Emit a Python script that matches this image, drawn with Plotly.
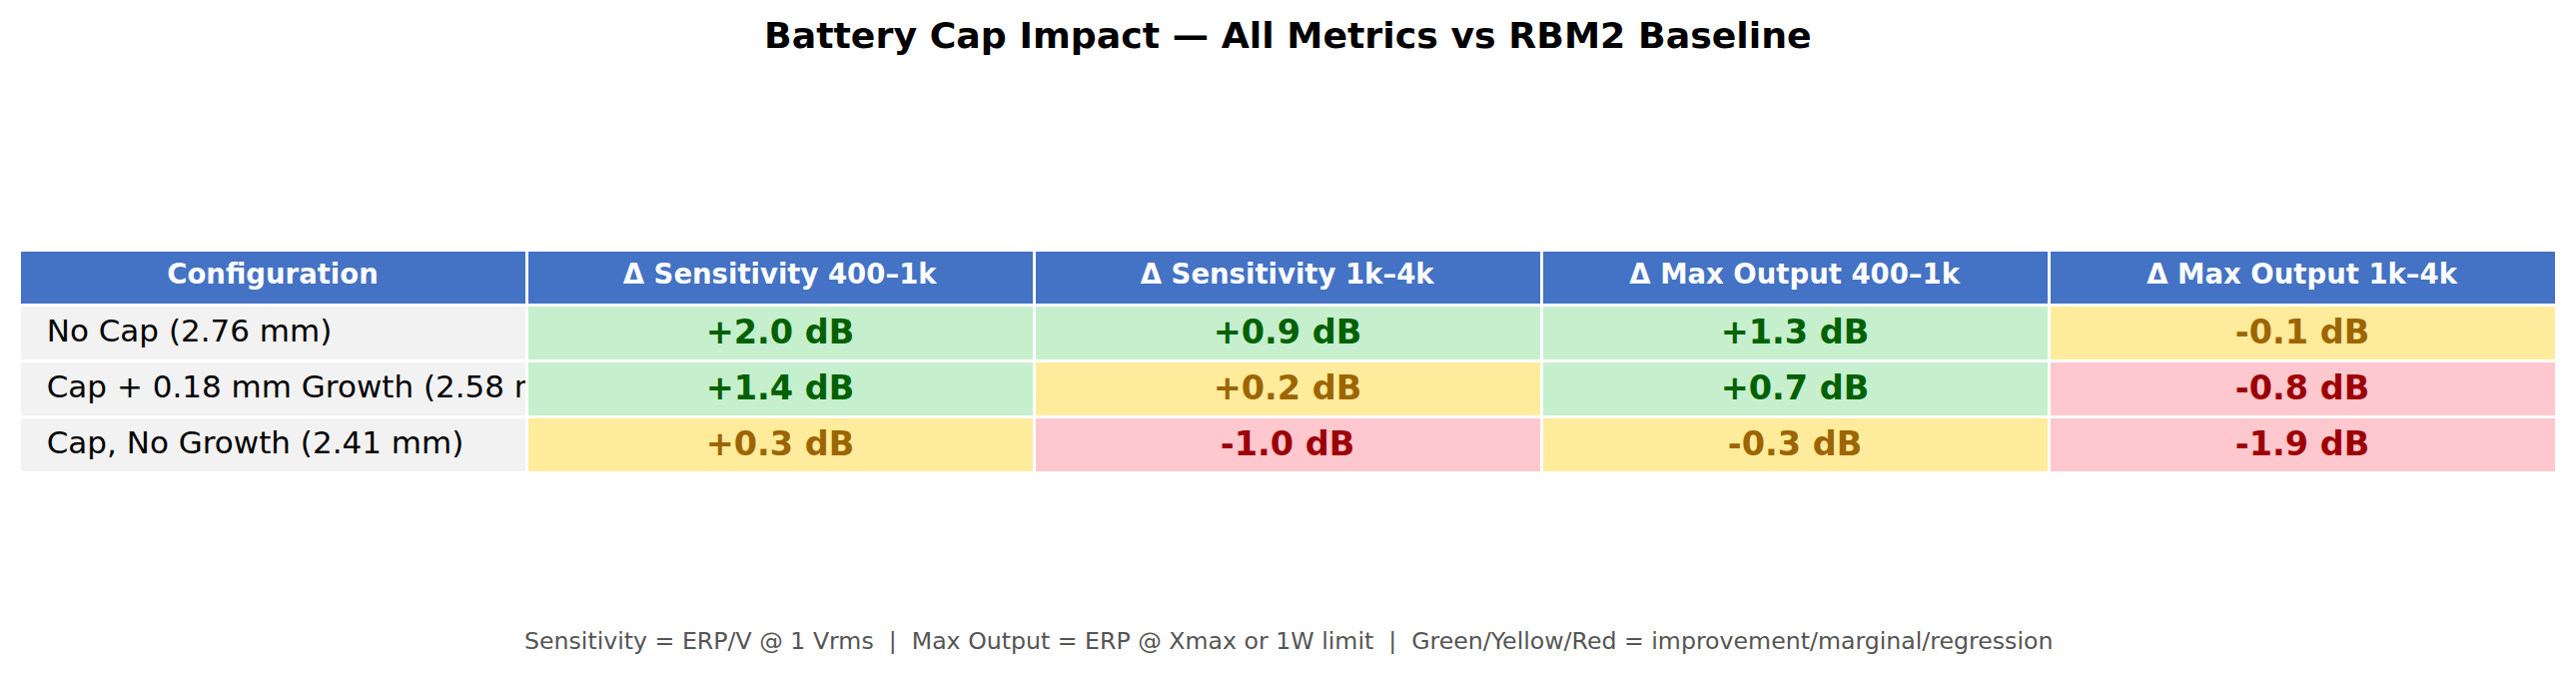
import plotly.graph_objects as go

W, H = 2579, 676

configs = ["No Cap (2.76 mm)", "Cap + 0.18 mm Growth (2.58 mm)", "Cap, No Growth (2.41 mm)"]
metric_labels = ["Δ Sensitivity 400–1k", "Δ Sensitivity 1k–4k", "Δ Max Output 400–1k", "Δ Max Output 1k–4k"]
sens_400_1k = [2.0, 1.4, 0.3]
sens_1k_4k = [0.9, 0.2, -1.0]
max_400_1k = [1.3, 0.7, -0.3]
max_1k_4k = [-0.1, -0.8, -1.9]

title = "Battery Cap Impact — All Metrics vs RBM2 Baseline"
footer = ("Sensitivity = ERP/V @ 1 Vrms  |  Max Output = ERP @ Xmax or 1W limit  |  "
          "Green/Yellow/Red = improvement/marginal/regression")

GOOD, BAD = 0.5, -0.5
BG = {"g": "#C6EFCE", "y": "#FFEB9C", "r": "#FFC7CE"}
FG = {"g": "#006100", "y": "#9C6500", "r": "#9C0006"}


def status(v):
    if v >= GOOD:
        return "g"
    if v > BAD:
        return "y"
    return "r"


metric_cols = [sens_400_1k, sens_1k_4k, max_400_1k, max_1k_4k]
NB = "\u00a0"
cell_values = [[f"<span>{NB * 2}{c.replace(' ', NB)}</span>" for c in configs]]
fills = [["#F2F2F2"] * len(configs)]
fcolors = [["#000000"] * len(configs)]
for col in metric_cols:
    cell_values.append([f"<b>{v:+.1f} dB</b>" for v in col])
    fills.append([BG[status(v)] for v in col])
    fcolors.append([FG[status(v)] for v in col])

header_vals = ["<b>Configuration</b>"] + [f"<b>{m}</b>" for m in metric_labels]

top_px = 242
cx = 0.5 - 8 / W
fig = go.Figure(go.Table(
    domain=dict(x=[11 / W, 2551 / W], y=[0, 1 - top_px / H]),
    columnwidth=[1] * 5,
    header=dict(
        values=header_vals,
        fill_color="#4472C4",
        font=dict(family="DejaVu Sans", size=27.5, color="white"),
        align="center",
        line=dict(color="white", width=3),
        height=55,
    ),
    cells=dict(
        values=cell_values,
        fill_color=fills,
        font=dict(family="DejaVu Sans", size=[31, 33.5, 33.5, 33.5, 33.5], color=fcolors),
        align=["left", "center", "center", "center", "center"],
        line=dict(color="white", width=3),
        height=56,
    ),
))

fig.update_layout(
    width=W, height=H,
    margin=dict(l=0, r=0, t=0, b=0),
    paper_bgcolor="white",
    plot_bgcolor="white",
    annotations=[
        dict(text=f"<b>{title}</b>", x=cx, y=1 - 28 / H, xref="paper", yref="paper",
             showarrow=False, xanchor="center", yanchor="middle",
             font=dict(family="DejaVu Sans", size=36.3, color="black")),
        dict(text=footer.replace("  ", NB * 2), x=cx, y=1 - 634 / H, xref="paper", yref="paper",
             showarrow=False, xanchor="center", yanchor="middle",
             font=dict(family="DejaVu Sans", size=23.65, color="#555555")),
    ],
)

fig.write_html("out.html")
